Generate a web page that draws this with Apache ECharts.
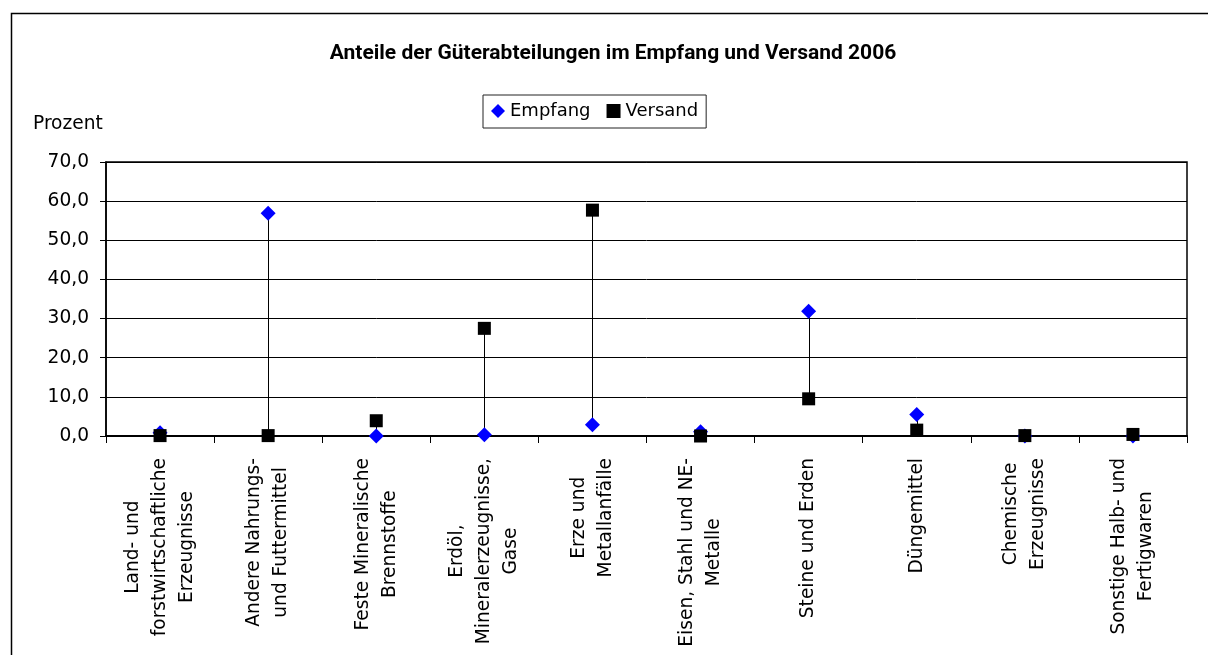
<!DOCTYPE html>
<html>
<head>
<meta charset="utf-8">
<script src="https://cdn.jsdelivr.net/npm/echarts@6/dist/echarts.min.js"></script>
<style>
  html, body { margin: 0; padding: 0; background: #fff; }
  #chart { width: 1208px; height: 655px; }
</style>
</head>
<body>
<div id="chart"></div>
<script>
// Güterabteilungen (goods divisions), shares of Empfang and Versand in percent, 2006
const categories = [
  'Land- und\nforstwirtschaftliche\nErzeugnisse',
  'Andere Nahrungs-\nund Futtermittel',
  'Feste Mineralische\nBrennstoffe',
  'Erdöl,\nMineralerzeugnisse,\nGase',
  'Erze und\nMetallanfälle',
  'Eisen, Stahl und NE-\nMetalle',
  'Steine und Erden',
  'Düngemittel',
  'Chemische\nErzeugnisse',
  'Sonstige Halb- und\nFertigwaren'
];
const empfang = [0.8, 56.9, 0.0, 0.3, 2.9, 1.1, 31.9, 5.5, 0.0, 0.0];
const versand = [0.1, 0.1, 3.9, 27.5, 57.7, 0.0, 9.5, 1.5, 0.1, 0.4];
const yTicks = { min: 0, max: 70, interval: 10 };

const FONT = '"DejaVu Sans", sans-serif';
const AXIS_FS = 18.6;

// high-low connector between the two values of each category
const hiLo = categories.map((c, i) => [i, Math.min(empfang[i], versand[i]), Math.max(empfang[i], versand[i])]);

const chart = echarts.init(document.getElementById('chart'), null, { renderer: 'canvas' });

chart.setOption({
  animation: false,
  backgroundColor: '#fff',
  title: {
    text: 'Anteile der Güterabteilungen im Empfang und Versand 2006',
    left: 613,
    top: 43,
    padding: 0,
    textAlign: 'center',
    textStyle: { fontFamily: 'Roboto, sans-serif', fontWeight: 'bold', fontSize: 21, color: '#000' }
  },
  legend: {
    left: 483,
    top: 95,
    padding: [7, 8, 8, 8],
    itemGap: 16,
    itemWidth: 14,
    itemHeight: 14,
    borderColor: '#222',
    borderWidth: 1,
    textStyle: { fontFamily: FONT, fontSize: 18, color: '#000' },
    data: [
      { name: 'Empfang', icon: 'diamond' },
      { name: 'Versand', icon: 'rect' }
    ]
  },
  graphic: [
    {
      type: 'rect',
      silent: true,
      shape: { x: 11.5, y: 13.5, width: 1300, height: 800 },
      style: { fill: 'none', stroke: '#000', lineWidth: 1.5 },
      z: -1
    },
    {
      type: 'text',
      left: 33,
      top: 115,
      style: { text: 'Prozent', fontFamily: FONT, fontSize: AXIS_FS, fill: '#000' }
    }
  ],
  grid: {
    left: 106,
    top: 162,
    right: 21,
    bottom: 219,
    show: true,
    borderColor: '#000',
    borderWidth: 1.5,
    outerBoundsMode: 'none'
  },
  xAxis: {
    type: 'category',
    data: categories,
    boundaryGap: true,
    axisLine: { show: true, onZero: false, lineStyle: { color: '#000', width: 2 } },
    axisTick: { show: true, length: 7, alignWithLabel: false, interval: 0, lineStyle: { color: '#000' } },
    axisLabel: {
      interval: 0,
      rotate: 90,
      margin: 22,
      color: '#000',
      fontFamily: FONT,
      fontSize: AXIS_FS,
      lineHeight: 27,
      formatter: v => v.split('\n').map(l => '{c|' + l + '}').join('\n'),
      rich: { c: { align: 'center', fontFamily: FONT, fontSize: AXIS_FS, lineHeight: 27, color: '#000' } }
    },
    splitLine: { show: false }
  },
  yAxis: {
    type: 'value',
    min: yTicks.min,
    max: yTicks.max,
    interval: yTicks.interval,
    axisLine: { show: true, lineStyle: { color: '#000', width: 1.5 } },
    axisTick: { show: true, length: 6, lineStyle: { color: '#000' } },
    axisLabel: {
      margin: 17,
      color: '#000',
      fontFamily: FONT,
      fontSize: AXIS_FS,
      formatter: v => v.toFixed(1).replace('.', ',')
    },
    splitLine: { show: true, lineStyle: { color: '#000', width: 1 } }
  },
  series: [
    {
      name: 'HiLo',
      type: 'custom',
      data: hiLo,
      encode: { x: 0, y: [1, 2] },
      z: 1,
      silent: true,
      renderItem: (params, api) => {
        const a = api.coord([api.value(0), api.value(1)]);
        const b = api.coord([api.value(0), api.value(2)]);
        return {
          type: 'line',
          shape: { x1: Math.round(a[0]) + 0.5, y1: a[1], x2: Math.round(b[0]) + 0.5, y2: b[1] },
          style: { stroke: '#000', lineWidth: 1 }
        };
      }
    },
    {
      name: 'Empfang',
      type: 'scatter',
      data: empfang,
      symbol: 'diamond',
      symbolSize: [15, 15],
      itemStyle: { color: '#0000ff', opacity: 1 },
      z: 3
    },
    {
      name: 'Versand',
      type: 'scatter',
      data: versand,
      symbol: 'rect',
      symbolSize: 13,
      itemStyle: { color: '#000', opacity: 1 },
      z: 4
    }
  ]
});
</script>
</body>
</html>
